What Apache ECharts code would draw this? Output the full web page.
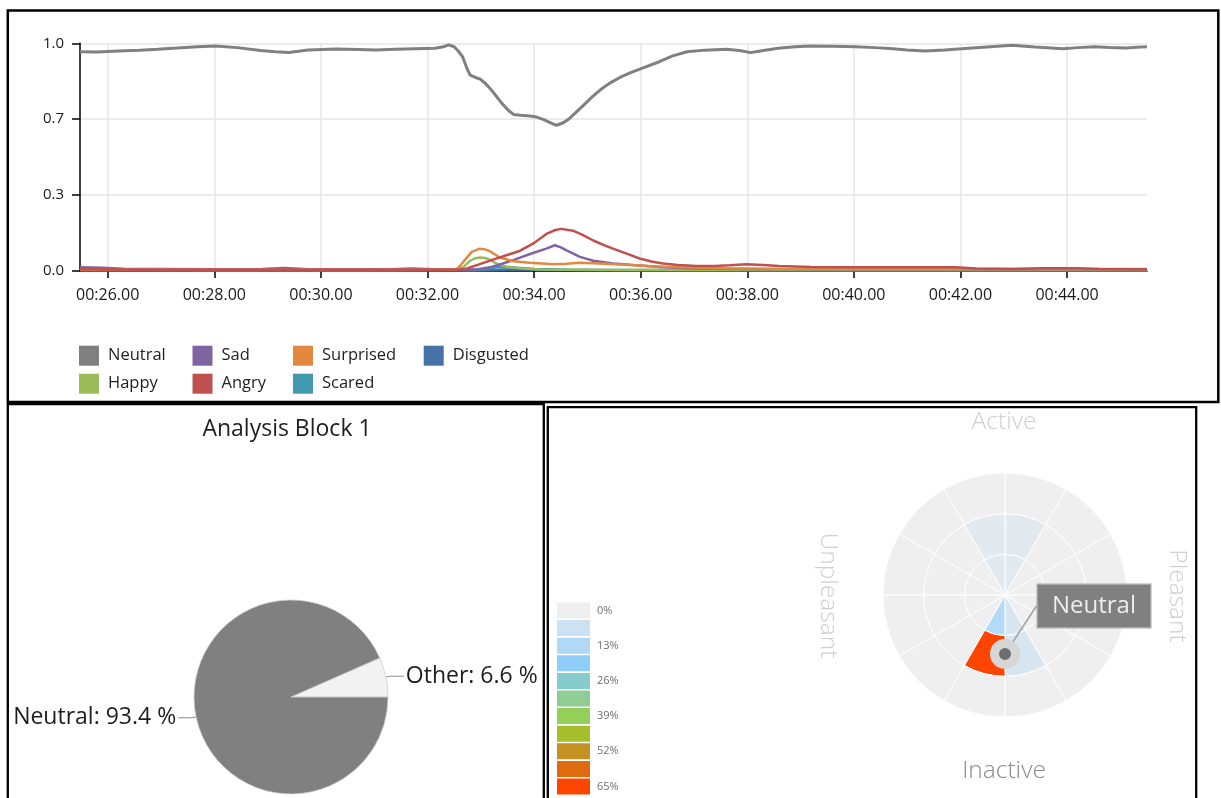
<!DOCTYPE html>
<html>
<head>
<meta charset="utf-8">
<script src="https://cdn.jsdelivr.net/npm/echarts@6/dist/echarts.min.js"></script>
<style>
html,body{margin:0;padding:0;background:#fff;}
#chart{width:1221px;height:798px;}
</style>
</head>
<body>
<div id="chart"></div>
<script>
// ---- Emotion intensity over time: [seconds, probability] ----
const neutralData = [
  [25.48,0.963],[25.8,0.962],[26.2,0.966],[26.6,0.970],[26.94,0.974],[27.3,0.979],[27.69,0.985],
  [28.02,0.988],[28.43,0.981],[28.87,0.968],[29.15,0.963],[29.4,0.960],[29.76,0.971],[30.28,0.975],
  [30.7,0.973],[31.03,0.971],[31.4,0.974],[31.77,0.976],[32.14,0.978],[32.3,0.985],[32.4,0.993],
  [32.5,0.985],[32.58,0.965],[32.66,0.94],[32.74,0.89],[32.8,0.86],[32.9,0.85],[32.99,0.843],
  [33.08,0.825],[33.18,0.80],[33.3,0.765],[33.4,0.735],[33.52,0.705],[33.62,0.687],[33.75,0.684],
  [33.92,0.681],[34.05,0.676],[34.18,0.665],[34.3,0.652],[34.42,0.640],[34.54,0.650],[34.66,0.669],
  [34.8,0.700],[34.96,0.735],[35.1,0.767],[35.25,0.797],[35.42,0.825],[35.61,0.850],[35.8,0.870],
  [36.02,0.890],[36.35,0.919],[36.6,0.945],[36.87,0.963],[37.2,0.970],[37.61,0.974],[37.85,0.968],
  [38.06,0.959],[38.3,0.968],[38.58,0.978],[38.9,0.985],[39.17,0.988],[39.6,0.987],[40.03,0.985],
  [40.4,0.981],[40.73,0.976],[41.0,0.971],[41.33,0.966],[41.7,0.971],[42.02,0.976],[42.5,0.984],
  [42.96,0.991],[43.4,0.984],[43.93,0.976],[44.2,0.981],[44.52,0.985],[44.8,0.982],[45.11,0.979],
  [45.3,0.983],[45.5,0.985]
];
const sadData = [
  [25.48,0.016],[25.9,0.014],[26.3,0.010],[27,0.009],[28,0.008],[28.9,0.009],[29.3,0.013],
  [29.7,0.009],[30.5,0.008],[31.3,0.008],[31.7,0.011],[32.1,0.008],[32.7,0.006],[32.95,0.008],
  [33.17,0.016],[33.4,0.032],[33.61,0.048],[33.8,0.064],[33.98,0.079],[34.23,0.098],[34.39,0.113],
  [34.5,0.104],[34.61,0.091],[34.86,0.062],[35.11,0.045],[35.48,0.033],[35.86,0.026],[36.42,0.016],
  [37,0.011],[38,0.009],[40,0.008],[42,0.008],[44,0.008],[45.5,0.008]
];
const angryData = [
  [25.48,0.008],[26.5,0.006],[28,0.006],[30,0.006],[32,0.006],[32.6,0.007],[32.73,0.010],
  [32.98,0.030],[33.23,0.050],[33.48,0.069],[33.73,0.088],[33.98,0.120],[34.23,0.163],[34.4,0.180],
  [34.51,0.185],[34.73,0.177],[34.9,0.160],[35.11,0.134],[35.3,0.115],[35.48,0.098],[35.75,0.075],
  [35.98,0.055],[36.2,0.042],[36.42,0.033],[36.7,0.026],[37.05,0.022],[37.4,0.022],[37.67,0.025],
  [37.98,0.030],[38.3,0.026],[38.6,0.022],[39.2,0.018],[40,0.017],[41,0.017],[41.9,0.016],
  [42.3,0.011],[43,0.009],[43.5,0.012],[44.2,0.012],[44.6,0.009],[45.5,0.008]
];
const surprisedData = [
  [25.48,0.006],[27,0.005],[29,0.005],[31,0.005],[32.4,0.005],[32.54,0.007],[32.62,0.025],
  [32.7,0.048],[32.83,0.084],[32.98,0.098],[33.08,0.095],[33.17,0.087],[33.36,0.059],[33.61,0.043],
  [33.92,0.036],[34.36,0.030],[34.6,0.032],[34.86,0.036],[35.23,0.033],[35.8,0.026],[36.2,0.021],
  [36.73,0.016],[37.5,0.012],[38.5,0.010],[40,0.009],[42,0.009],[44,0.009],[45.5,0.009]
];
const happyData = [
  [25.48,0.005],[28,0.004],[31,0.004],[32.5,0.005],[32.67,0.016],[32.79,0.043],[32.88,0.055],
  [32.98,0.059],[33.08,0.057],[33.17,0.050],[33.29,0.033],[33.48,0.019],[33.73,0.012],[34.1,0.007],
  [35,0.005],[40,0.004],[45.5,0.004]
];
const scaredData = [
  [25.48,0.004],[30,0.004],[32.9,0.004],[33.1,0.010],[33.3,0.016],[33.5,0.018],[33.7,0.014],
  [34,0.009],[34.5,0.006],[36,0.004],[45.5,0.004]
];
const disgustedData = [
  [25.48,0.003],[33,0.003],[33.5,0.007],[34,0.008],[34.6,0.005],[35.5,0.003],[45.5,0.003]
];

// ---- Axis ticks ----
const timeTicks = [26, 28, 30, 32, 34, 36, 38, 40, 42, 44];
const probTicks = [0, 1 / 3, 2 / 3, 1];

// ---- Block summary (pie) ----
const pieNames = ['Other', 'Neutral'];
const pieValues = [6.6, 93.4];

// ---- Arousal / valence wheel: % per cell, 12 sectors clockwise from the top ----
const ringInner  = [2.5, 0, 0, 0, 0, 4.5, 12.5, 0, 0, 0, 0, 2.5];
const ringMiddle = [2.5, 0, 0, 0, 0, 4.5, 66, 0, 0, 0, 0, 2.5];
const ringOuter  = [0, 0, 0, 0, 0, 0, 0, 0, 0, 0, 0, 0];
const neutralPoint = [1.45, 270];           // [radius, angle in degrees]
const scaleColors = ['#EFEFEF','#CCE1F2','#B1D9F6','#90CDF9','#86CCCC','#90CD94',
                     '#94CF5A','#A5BE2A','#C49122','#E06A10','#FF4500'];
const scaleLabels = ['0%','','13%','','26%','','39%','','52%','','65%'];
const scaleMax = 65;

const FONT = "'Open Sans', 'Noto Sans', sans-serif";
const emotionColors = {
  Neutral: '#808080', Happy: '#9BBB59', Sad: '#8064A2', Angry: '#C0504D',
  Surprised: '#E3883F', Scared: '#4198AF', Disgusted: '#4572A7'
};
const emotionSeries = [
  ['Neutral', neutralData], ['Disgusted', disgustedData], ['Scared', scaredData],
  ['Happy', happyData], ['Sad', sadData], ['Surprised', surprisedData], ['Angry', angryData]
];
const legendColumns = [['Neutral','Happy'], ['Sad','Angry'], ['Surprised','Scared'], ['Disgusted']];
const legendLefts = [79, 192.5, 293, 423.7];

function cellColor(pct) {
  return echarts.color.lerp(Math.min(pct, scaleMax) / scaleMax, scaleColors);
}

const chart = echarts.init(document.getElementById('chart'), null, { renderer: 'canvas' });

const lineSeries = emotionSeries.map(([name, data]) => ({
  name, type: 'line', xAxisIndex: 0, yAxisIndex: 0, data,
  showSymbol: false, symbol: 'none', smooth: false,
  lineStyle: { color: emotionColors[name], width: name === 'Neutral' ? 3 : 2.5 },
  itemStyle: { color: emotionColors[name] },
  z: name === 'Neutral' ? 2 : 3
}));

const ringSeries = [ringInner, ringMiddle, ringOuter].map((ring, k) => ({
  type: 'bar', coordinateSystem: 'polar', polarIndex: 0, stack: 'wheel',
  barCategoryGap: '0%', silent: true, name: 'ring' + k,
  data: ring.map(p => ({ value: 1, itemStyle: { color: cellColor(p) } })),
  itemStyle: { borderColor: '#FFFFFF', borderWidth: 1 }
}));

const legends = legendColumns.map((names, i) => ({
  data: names, orient: 'vertical', left: legendLefts[i], top: 345.7,
  padding: 0, itemGap: 8, itemWidth: 20, itemHeight: 20, icon: 'rect',
  selectedMode: false,
  textStyle: { fontFamily: FONT, fontSize: 16.5, color: '#1e1e1e', lineHeight: 20, padding: [0, 0, 0, 4] }
}));

const graphics = [
  // panel frames
  { type: 'rect', shape: { x: 7.8, y: 10.5, width: 1210.5, height: 391.5 },
    style: { fill: 'none', stroke: '#000', lineWidth: 2.5 }, z: 100 },
  { type: 'rect', shape: { x: 7.8, y: 404, width: 536, height: 420 },
    style: { fill: 'none', stroke: '#000', lineWidth: 2.3 }, z: 100 },
  { type: 'rect', shape: { x: 547.8, y: 407.2, width: 648.4, height: 420 },
    style: { fill: 'none', stroke: '#000', lineWidth: 2.3 }, z: 100 },
  // pie title
  { type: 'text', x: 287, y: 429,
    style: { text: 'Analysis Block 1', fontFamily: FONT, fontSize: 23, fill: '#1e1e1e',
             textAlign: 'center', textVerticalAlign: 'middle' } },
  // wheel direction labels
  { type: 'text', x: 1004, y: 422.5,
    style: { text: 'Active', fontFamily: FONT, fontSize: 24.5, fontWeight: 300, fill: '#CFCFCF',
             textAlign: 'center', textVerticalAlign: 'middle' } },
  { type: 'text', x: 1004, y: 771,
    style: { text: 'Inactive', fontFamily: FONT, fontSize: 24.5, fontWeight: 300, fill: '#8A8A8A',
             textAlign: 'center', textVerticalAlign: 'middle' } },
  { type: 'text', x: 828, y: 595.5, rotation: -Math.PI / 2,
    style: { text: 'Unpleasant', fontFamily: FONT, fontSize: 24.5, fontWeight: 300, fill: '#CFCFCF',
             textAlign: 'center', textVerticalAlign: 'middle' } },
  { type: 'text', x: 1177, y: 596, rotation: -Math.PI / 2,
    style: { text: 'Pleasant', fontFamily: FONT, fontSize: 24.5, fontWeight: 300, fill: '#CFCFCF',
             textAlign: 'center', textVerticalAlign: 'middle' } }
];
// colour scale key
scaleColors.forEach((c, i) => {
  const y = 602.5 + i * 17.6;
  graphics.push({ type: 'rect', shape: { x: 557, y: y, width: 33, height: 16 }, style: { fill: c } });
  if (scaleLabels[i]) {
    graphics.push({ type: 'text', x: 597, y: y + 8,
      style: { text: scaleLabels[i], fontFamily: FONT, fontSize: 11, fill: '#707070',
               textVerticalAlign: 'middle' } });
  }
});

const option = {
  animation: false,
  backgroundColor: '#FFFFFF',
  textStyle: { fontFamily: FONT },
  legend: legends,
  grid: [{ left: 80, top: 43.3, width: 1067, height: 227.7 }],
  xAxis: [{
    type: 'value', gridIndex: 0, min: 25.48, max: 45.5,
    axisLine: { show: true, onZero: false, lineStyle: { color: '#000', width: 1.5 } },
    axisTick: { show: true, customValues: timeTicks, length: 7, lineStyle: { color: '#000', width: 1.5 } },
    axisLabel: { customValues: timeTicks, formatter: v => '00:' + v.toFixed(2), margin: 16,
                 fontSize: 16, color: '#1a1a1a', fontFamily: FONT },
    splitLine: { show: true, lineStyle: { color: '#E6E6E6', width: 1.5 } }
  }],
  yAxis: [{
    type: 'value', gridIndex: 0, min: 0, max: 1,
    axisLine: { show: true, lineStyle: { color: '#000', width: 1.5 } },
    axisTick: { show: true, customValues: probTicks, length: 8, lineStyle: { color: '#000', width: 1.5 } },
    axisLabel: { customValues: probTicks, formatter: v => v.toFixed(1), margin: 16,
                 fontSize: 15, color: '#1a1a1a', fontFamily: FONT },
    splitLine: { show: true, lineStyle: { color: '#E6E6E6', width: 1.5 } }
  }],
  polar: [
    { center: [1005, 595], radius: 122 },
    { center: [1005, 595], radius: 122 }
  ],
  angleAxis: [
    { polarIndex: 0, type: 'category', data: ringInner.map((_, i) => 'S' + i), startAngle: 90,
      clockwise: true, axisLine: { show: false }, axisTick: { show: false },
      axisLabel: { show: false }, splitLine: { show: false } },
    { polarIndex: 1, type: 'value', min: 0, max: 360, startAngle: 0, clockwise: false,
      axisLine: { show: false }, axisTick: { show: false },
      axisLabel: { show: false }, splitLine: { show: false } }
  ],
  radiusAxis: [
    { polarIndex: 0, type: 'value', min: 0, max: 3, axisLine: { show: false },
      axisTick: { show: false }, axisLabel: { show: false }, splitLine: { show: false } },
    { polarIndex: 1, type: 'value', min: 0, max: 3, axisLine: { show: false },
      axisTick: { show: false }, axisLabel: { show: false }, splitLine: { show: false } }
  ],
  graphic: graphics,
  series: [
    ...lineSeries,
    {
      type: 'pie', name: 'Analysis Block 1', center: [291, 697], radius: 97,
      startAngle: 0, clockwise: false, avoidLabelOverlap: false, silent: true,
      data: pieNames.map((n, i) => ({
        name: n, value: pieValues[i],
        itemStyle: { color: n === 'Neutral' ? '#808080' : '#F2F2F2' }
      })),
      itemStyle: { borderColor: '#CFCFCF', borderWidth: 0.8 },
      label: { show: true, position: 'outside', formatter: '{b}: {c} %', fontFamily: FONT,
               fontSize: 23, color: '#1e1e1e', distanceToLabelLine: 2 },
      labelLine: { show: true, length: 4, length2: 14, lineStyle: { color: '#8C8C8C', width: 1 } }
    },
    ...ringSeries,
    {
      type: 'scatter', coordinateSystem: 'polar', polarIndex: 1, name: 'Neutral',
      data: [neutralPoint], symbol: 'circle', symbolSize: 21, silent: true,
      itemStyle: { color: '#6E6E6E', borderColor: '#D6D6D6', borderWidth: 9, opacity: 1 },
      label: { show: true, position: 'inside', formatter: 'Neutral', fontFamily: FONT,
               fontSize: 24, color: '#EDEDED', backgroundColor: '#808080',
               borderColor: '#A8A8A8', borderWidth: 1.5, padding: [9, 14, 9, 14] },
      labelLayout: { dx: 89, dy: -48 },
      labelLine: { show: true, lineStyle: { color: '#A0A0A0', width: 1.5 } },
      z: 5
    }
  ]
};
chart.setOption(option);
</script>
</body>
</html>
